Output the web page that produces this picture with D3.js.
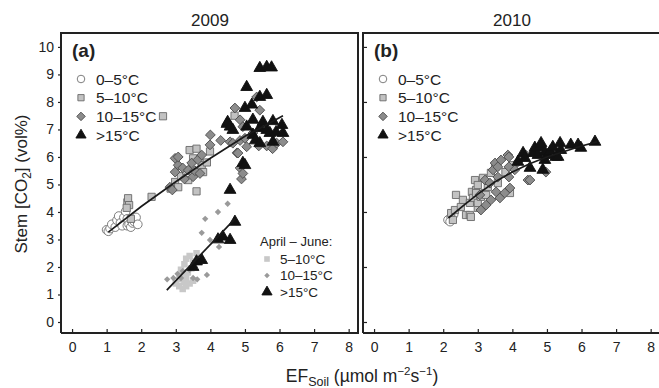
<!DOCTYPE html>
<html>
<head>
<meta charset="utf-8">
<script src="https://cdn.jsdelivr.net/npm/d3@7"></script>
<style>
  body { margin: 0; background: #fff; }
  text { font-family: "Liberation Sans", Arial, sans-serif; fill: #222; }
  .tick line { stroke: #222; stroke-width: 1.2; }
  .tick text { font-size: 14px; }
  .frame { fill: none; stroke: #222; stroke-width: 2; }
  .fit { fill: none; stroke: #1a1a1a; stroke-width: 1.7; }
</style>
</head>
<body>
<div id="graph"></div>
<script>
// ticks
var xTicks = [0, 1, 2, 3, 4, 5, 6, 7, 8];
var yTicks = [0, 1, 2, 3, 4, 5, 6, 7, 8, 9, 10];
var panelTitles = ['2009', '2010'];
var panelTags = ['(a)', '(b)'];
var legendLabels = ['0\u20135\u00b0C', '5\u201310\u00b0C', '10\u201315\u00b0C', '>15\u00b0C'];
var springLabels = ['5\u201310\u00b0C', '10\u201315\u00b0C', '>15\u00b0C'];

// 2009 : [EF soil, stem CO2]
var a_cold = [[1.0,3.35],[1.05,3.3],[1.1,3.4],[1.15,3.55],[1.25,3.45],[1.3,3.7],[1.35,3.85],[1.4,3.6],
              [1.45,3.5],[1.5,3.8],[1.55,4.02],[1.6,3.75],[1.6,3.5],[1.65,3.55],[1.7,3.45],[1.75,3.6],
              [1.8,3.65],[1.85,3.8],[1.9,3.55]];
var a_cool = [[1.6,4.35],[1.62,4.5],[1.65,4.25],[1.58,4.15],[1.7,3.75],[2.3,4.55],[2.85,4.85],[2.98,5.09],
              [3.07,4.9],[3.36,5.16],[3.6,4.75],[3.15,5.3],[3.3,5.5],[3.75,5.7],[3.79,5.45],[3.4,6.25],
              [3.6,6.3],[3.99,6.2],[3.9,5.8],[2.63,7.48],[4.7,7.5],[3.5,5.95]];
var a_warm = [[2.83,4.9],[2.9,4.8],[2.98,5.45],[2.98,5.95],[3.07,5.7],[3.07,6.0],[3.2,5.6],[3.25,5.2],
              [3.36,5.52],[3.46,5.78],[3.5,5.28],[3.55,5.5],[3.64,5.9],[3.7,5.4],[3.75,6.07],[3.99,6.44],
              [4.0,6.8],[4.3,6.6],[4.57,6.55],[4.65,6.5],[4.71,7.78],[4.77,6.15],[4.8,6.14],[4.86,5.6],
              [4.86,6.6],[4.86,7.35],[4.9,5.2],[4.94,5.4],[4.94,7.1],[5.0,6.68],[5.05,6.37],[5.23,6.87],
              [5.34,8.18],[5.4,6.4],[5.43,7.7],[5.63,6.4],[5.8,6.3],[5.92,6.5],[6.1,6.55]];
var a_hot  = [[4.48,7.2],[4.5,7.27],[4.57,7.1],[4.57,4.8],[4.65,6.98],[4.94,5.78],[5.0,5.7],[5.0,7.78],
              [5.05,7.1],[5.05,8.54],[5.2,7.9],[5.23,7.35],[5.23,6.8],[5.3,6.6],[5.43,8.18],[5.43,7.05],
              [5.43,6.5],[5.43,9.23],[5.52,7.27],[5.63,9.27],[5.63,8.25],[5.63,6.98],[5.72,6.87],[5.77,9.25],
              [5.81,7.3],[5.81,6.55],[5.9,6.9],[6.07,7.16],[6.1,6.87]];
// 2009, April - June
var aj_cool = [[3.0,1.4],[3.1,1.3],[3.1,1.55],[3.15,1.9],[3.2,1.2],[3.2,1.75],[3.25,2.1],[3.25,1.45],
               [3.3,1.3],[3.3,1.6],[3.3,2.3],[3.35,1.8],[3.4,1.4],[3.4,2.4],[3.45,1.95],[3.5,1.5],
               [3.5,2.2],[3.6,2.5]];
var aj_warm = [[2.75,1.55],[2.93,1.6],[3.05,1.75],[3.15,1.6],[3.2,1.85],[3.4,1.9],[3.5,1.6],[3.62,1.55],
               [3.9,1.71],[3.55,2.0],[3.62,2.25],[3.75,3.24],[3.85,3.75],[3.99,2.98],[4.22,4.0],[4.25,2.73],
               [4.5,4.3]];
var aj_hot  = [[3.5,2.0],[3.6,2.2],[3.75,2.25],[4.22,3.0],[4.36,3.1],[4.57,2.98],[4.71,3.64]];

// 2010
var b_cold = [[2.14,3.71],[2.23,3.82],[2.2,3.65],[2.3,3.9]];
var b_cool = [[2.23,3.96],[2.28,3.71],[2.34,4.07],[2.37,4.62],[2.51,4.18],[2.57,4.44],[2.66,3.89],[2.77,4.33],
              [2.77,3.89],[2.8,3.82],[2.83,4.73],[2.86,4.51],[2.92,5.16],[2.95,4.8],[2.95,4.69],[3.0,4.15],
              [3.0,4.33],[3.0,4.98],[3.09,4.55],[3.15,5.24],[3.2,4.69],[3.24,4.62],[3.29,4.91],[3.38,5.42],
              [3.5,5.64],[3.58,5.05],[3.8,5.45],[3.93,4.69],[4.0,5.7]];
var b_warm = [[3.06,4.62],[3.09,4.07],[3.21,5.16],[3.24,4.25],[3.35,5.05],[3.38,4.44],[3.44,5.53],[3.5,5.78],
              [3.53,4.73],[3.58,5.27],[3.58,5.64],[3.64,4.51],[3.67,5.89],[3.78,4.69],[3.87,6.07],[3.9,5.27],
              [3.9,5.64],[3.93,4.87],[3.9,6.0],[4.07,5.53],[4.16,5.82],[4.25,5.96],[4.39,6.07],[4.45,5.16],
              [4.51,5.16],[4.97,5.45]];
var b_hot  = [[4.16,5.82],[4.31,6.14],[4.36,5.96],[4.51,5.6],[4.6,6.14],[4.65,6.33],[4.74,6.07],[4.8,6.36],
              [4.83,6.5],[4.88,5.53],[4.94,6.18],[4.94,5.89],[5.03,6.07],[5.1,6.2],[5.17,6.36],[5.26,6.0],
              [5.32,6.0],[5.38,6.5],[5.4,6.25],[5.69,6.44],[5.9,6.44],[5.98,6.33],[6.39,6.55]];

// fitted lines
var a_fit  = [[1.05,3.27],[2.0,4.2],[3.0,5.1],[4.0,5.95],[5.0,6.75],[6.1,7.5]];
var aj_fit = [[2.74,1.16],[4.71,3.75]];
var b_fit  = [[2.15,3.78],[2.6,4.25],[3.0,4.65],[3.5,5.1],[4.0,5.45],[4.5,5.75],[5.0,6.0],[5.5,6.2],[6.0,6.4],[6.45,6.55]];

var width = 659, height = 388;

var svg = d3.select ('#graph')
            .append ('svg')
            .attr ('width', width)
            .attr ('height', height);

var yScale = d3.scaleLinear ().domain ([-0.4, 10.47]).range ([333, 34]);

// marker styles
var styles = {
    cold:    { type: d3.symbolCircle,   size: 60, fill: '#fff',    stroke: '#707070', rot: 0 },
    cool:    { type: d3.symbolSquare,   size: 52, fill: '#c2c2c2', stroke: '#6a6a6a', rot: 0 },
    warm:    { type: d3.symbolSquare,   size: 48, fill: '#8c8c8c', stroke: '#505050', rot: 45 },
    hot:     { type: d3.symbolTriangle, size: 60, fill: '#111',    stroke: '#111',    rot: 0 },
    sCool:   { type: d3.symbolSquare,   size: 42, fill: '#c8c8c8', stroke: 'none',    rot: 0 },
    sWarm:   { type: d3.symbolSquare,   size: 20, fill: '#9a9a9a', stroke: 'none',    rot: 45 },
    sHot:    { type: d3.symbolTriangle, size: 60, fill: '#111',    stroke: '#111',    rot: 0 }
};

var drawPoints = function (g, xScale, data, st)
{
    g.append ('g')
     .selectAll ('path')
     .data (data)
     .enter ()
     .append ('path')
     .attr ('d', d3.symbol ().type (st.type).size (st.size))
     .attr ('transform', function (d) {
         return 'translate(' + xScale (d[0]) + ',' + yScale (d[1]) + ') rotate(' + st.rot + ')';
     })
     .attr ('fill', st.fill)
     .attr ('stroke', st.stroke)
     .attr ('stroke-width', 0.9);
};

var drawLegend = function (g, x0, y0, dy, labels, keys, fontSize, gap)
{
    for (var i = 0; i < labels.length; i++)
    {
        var st = styles[keys[i]];
        g.append ('path')
         .attr ('d', d3.symbol ().type (st.type).size (st.size * 0.75))
         .attr ('transform', 'translate(' + x0 + ',' + (y0 + dy * i) + ') rotate(' + st.rot + ')')
         .attr ('fill', st.fill)
         .attr ('stroke', st.stroke)
         .attr ('stroke-width', 0.9);

        g.append ('text')
         .attr ('x', x0 + gap)
         .attr ('y', y0 + dy * i + fontSize * 0.36)
         .style ('font-size', fontSize + 'px')
         .text (labels[i]);
    }
};

var line = d3.line ();

var drawPanel = function (idx, left, right, sets, fits)
{
    var xScale = d3.scaleLinear ().domain ([-0.32, 8.27]).range ([left, left + 297]);
    var g = svg.append ('g');

    // x axis, inward ticks
    var xAxis = g.append ('g')
                 .attr ('transform', 'translate(0,333)')
                 .call (d3.axisBottom (xScale).tickValues (xTicks).tickSize (-4).tickPadding (9).tickSizeOuter (0));
    xAxis.select ('.domain').remove ();

    // y axis
    var yAxis;
    if (idx === 0)
        yAxis = g.append ('g')
                 .attr ('transform', 'translate(' + left + ',0)')
                 .call (d3.axisLeft (yScale).tickValues (yTicks).tickSize (3).tickPadding (4).tickSizeOuter (0));
    else
        yAxis = g.append ('g')
                 .attr ('transform', 'translate(' + left + ',0)')
                 .call (d3.axisLeft (yScale).tickValues ([0, 2, 4, 6, 8, 10]).tickSize (-4).tickFormat ('').tickSizeOuter (0));
    yAxis.select ('.domain').remove ();

    g.append ('path')
     .attr ('class', 'frame')
     .attr ('d', 'M' + left + ',333V33H' + right + 'V333H' + left);

    sets.forEach (function (s) { drawPoints (g, xScale, s.data, styles[s.key]); });

    fits.forEach (function (f) {
        g.append ('path')
         .attr ('class', 'fit')
         .attr ('d', line (f.map (function (d) { return [xScale (d[0]), yScale (d[1])]; })));
    });

    g.append ('text')
     .attr ('x', left + 149)
     .attr ('y', 26)
     .attr ('text-anchor', 'middle')
     .style ('font-size', '17px')
     .text (panelTitles[idx]);

    g.append ('text')
     .attr ('x', left + 11)
     .attr ('y', 57)
     .style ('font-size', '19px')
     .style ('font-weight', 'bold')
     .text (panelTags[idx]);

    drawLegend (g, left + 20, 79, 18.7, legendLabels, ['cold', 'cool', 'warm', 'hot'], 15.5, 15);

    return { g: g, x: xScale };
};

var pa = drawPanel (0, 61, 358,
    [ { data: aj_cool, key: 'sCool' }, { data: aj_warm, key: 'sWarm' }, { data: aj_hot, key: 'sHot' },
      { data: a_cold, key: 'cold' }, { data: a_cool, key: 'cool' }, { data: a_warm, key: 'warm' }, { data: a_hot, key: 'hot' } ],
    [ a_fit, aj_fit ]);

var pb = drawPanel (1, 363, 662,
    [ { data: b_cold, key: 'cold' }, { data: b_cool, key: 'cool' }, { data: b_warm, key: 'warm' }, { data: b_hot, key: 'hot' } ],
    [ b_fit ]);

// April - June legend
pa.g.append ('text')
    .attr ('x', 260)
    .attr ('y', 246)
    .style ('font-size', '13px')
    .text ('April \u2013 June:');
drawLegend (pa.g, 267, 259, 16.5, springLabels, ['sCool', 'sWarm', 'sHot'], 13.5, 13);

// axis titles
svg.append ('text')
   .attr ('transform', 'translate(27,184) rotate(-90)')
   .attr ('text-anchor', 'middle')
   .style ('font-size', '17px')
   .call (function (t) {
       t.append ('tspan').text ('Stem [CO');
       t.append ('tspan').attr ('dy', 4).style ('font-size', '12px').text ('2');
       t.append ('tspan').attr ('dy', -4).text ('] (vol%)');
   });

svg.append ('text')
   .attr ('x', 362)
   .attr ('y', 382)
   .attr ('text-anchor', 'middle')
   .style ('font-size', '17.5px')
   .call (function (t) {
       t.append ('tspan').text ('EF');
       t.append ('tspan').attr ('dy', 4).style ('font-size', '12.5px').text ('Soil');
       t.append ('tspan').attr ('dy', -4).text (' (\u00b5mol m');
       t.append ('tspan').attr ('dy', -7).style ('font-size', '11.5px').text ('\u22122');
       t.append ('tspan').attr ('dy', 7).text ('s');
       t.append ('tspan').attr ('dy', -7).style ('font-size', '11.5px').text ('\u22121');
       t.append ('tspan').attr ('dy', 7).text (')');
   });
</script>
</body>
</html>
